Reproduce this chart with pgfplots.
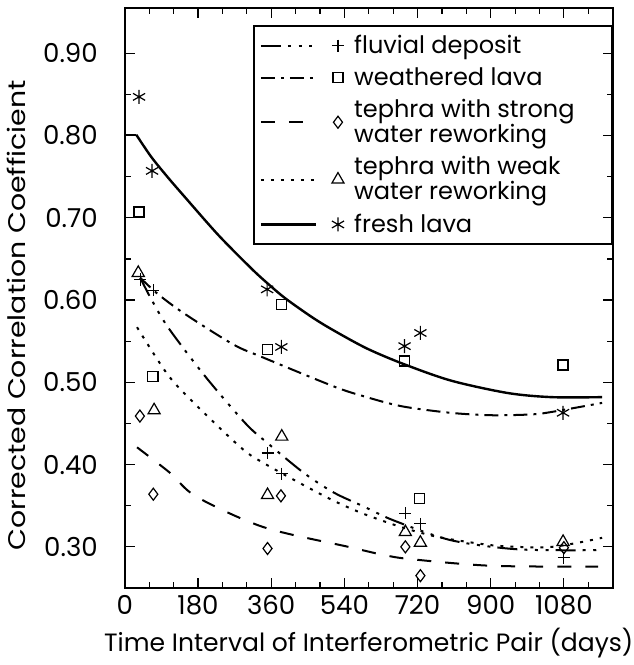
\documentclass[border=0pt]{standalone}
\usepackage{fontspec}
\setmainfont{Poppins}
\newfontfamily\ylabfont{Poppins}[FakeStretch=1.18]
\usepackage{pgfplots}
\pgfplotsset{compat=1.18}

\pgfplotsset{
  legimg/.style={legend image code/.code={
    \draw[##1,mark=none] (0pt,0pt) -- (27.5pt,0pt);
    \draw[##1,solid] plot[only marks] coordinates {(38.5pt,0pt)};
    \path (44.5pt,0pt);
  }},
  fluv/.style={black, line width=1pt, dash pattern=on 10pt off 3.5pt on 1.5pt off 3.8pt on 1.5pt off 3.8pt on 1.5pt off 3.5pt},
  weath/.style={black, line width=1pt, dash pattern=on 7pt off 3pt on 1.5pt off 3pt},
  strong/.style={black, line width=1pt, dash pattern=on 7pt off 7pt},
  weak/.style={black, line width=1pt, dash pattern=on 1.5pt off 3.5pt},
  fresh/.style={black, line width=1.2pt},
  mk/.style={only marks, black, mark options={solid, line width=0.6pt}},
}

\begin{document}
\begin{tikzpicture}
\begin{axis}[
  name=ax,
  scale only axis, width=243.5pt, height=289.5pt,
  xmin=0, xmax=1200, ymin=0.25, ymax=0.955,
  xtick={0,180,360,540,720,900,1080},
  minor xtick={60,120,240,300,420,480,600,660,780,840,960,1020,1140},
  ytick={0.3,0.4,0.5,0.6,0.7,0.8,0.9},
  minor ytick={0.35,0.45,0.55,0.65,0.75,0.85},
  tick align=inside,
  major tick length=5pt, minor tick length=3pt,
  every tick/.style={black, line width=0.6pt},
  axis line style={line width=1pt},
  /pgf/number format/assume math mode=true,
  xticklabel style={/pgf/number format/.cd, 1000 sep={}},
  yticklabel style={xshift=-10pt, /pgf/number format/.cd, fixed, fixed zerofill, precision=2},
  ticklabel style={font=\fontsize{13}{15}\selectfont},
  xlabel style={font=\fontsize{12.5}{14}\selectfont, inner xsep=0pt},
  ylabel style={font=\fontsize{12}{14}\selectfont\ylabfont, at={(ticklabel cs:0.47)}},
  ylabel shift=2pt,
  xlabel={Time Interval of Interferometric Pair (days)},
  ylabel={Corrected Correlation Coefficient},
  legend style={at={(rel axis cs:1,0.971)}, anchor=north east, draw=black, line width=1pt,
    fill=none, inner sep=3pt,
    font=\fontsize{12}{12.5}\selectfont, cells={anchor=west, align=left},
    nodes={inner ysep=1.5pt, inner xsep=1.5pt}, row sep=2.5pt},
  legimg,
]
% legend
\addlegendimage{fluv, mark=+, mark size=3pt, mark options={solid,line width=0.6pt}}
\addlegendentry{fluvial deposit}
\addlegendimage{weath, mark=square, mark size=2.5pt, mark options={solid,line width=0.6pt}}
\addlegendentry{weathered lava}
\addlegendimage{strong, mark=diamond, mark size=3pt, mark options={solid,line width=0.6pt}}
\addlegendentry{tephra with strong\rule{14pt}{0pt}\\water reworking}
\addlegendimage{weak, mark=triangle, mark size=3.5pt, mark options={solid,line width=0.6pt}}
\addlegendentry{tephra with weak\\water reworking}
\addlegendimage{fresh, mark=asterisk, mark size=3.5pt, mark options={solid,line width=0.6pt}}
\addlegendentry{fresh lava}

% fitted curves
\addplot[fresh, forget plot] coordinates {(0,0.801) (28,0.801)};
\addplot[fresh, smooth, forget plot] coordinates {
(28,0.801) (65,0.774) (106,0.749) (148,0.725) (230,0.679) (312,0.638) (354,0.619)
(395,0.602) (461,0.579) (514,0.563) (596,0.541) (687,0.522) (803,0.502) (942,0.487)
(1050,0.482) (1174,0.482)};
\addplot[weath, smooth, forget plot] coordinates {
(38,0.627) (82,0.607) (148,0.583) (267,0.546) (341,0.530) (514,0.495) (588,0.483)
(680,0.471) (800,0.463) (902,0.460) (1000,0.461) (1050,0.464) (1174,0.475)};
\addplot[fluv, smooth, forget plot] coordinates {
(38,0.627) (64,0.602) (106,0.567) (198,0.507) (297,0.450) (349,0.427) (440,0.390)
(514,0.366) (588,0.349) (662,0.332) (803,0.308) (967,0.297) (1164,0.296)};
\addplot[weak, smooth, forget plot] coordinates {
(30,0.567) (106,0.509) (176,0.472) (287,0.420) (341,0.402) (440,0.375) (514,0.356)
(588,0.340) (680,0.324) (761,0.313) (843,0.306) (926,0.301) (1050,0.300) (1174,0.311)};
\addplot[strong, smooth, forget plot] coordinates {
(30,0.421) (111,0.390) (176,0.361) (341,0.324) (550,0.300) (638,0.290) (705,0.285)
(902,0.277) (1164,0.276)};

% data points
\addplot[mk, mark=asterisk, mark size=3.5pt, forget plot] coordinates {
(35,0.847) (67,0.757) (350,0.613) (385,0.543) (688,0.544) (727,0.560) (1078,0.463)};
\addplot[mk, mark=square, mark size=2.5pt, forget plot] coordinates {
(35,0.707) (69,0.507) (350,0.540) (385,0.595) (688,0.526) (725,0.359) (1078,0.521)};
\addplot[mk, mark=+, mark size=3pt, forget plot] coordinates {
(38,0.625) (70,0.612) (351,0.414) (386,0.389) (690,0.341) (727,0.328) (1080,0.287)};
\addplot[mk, mark=diamond, mark size=3pt, forget plot] coordinates {
(37,0.459) (70,0.364) (351,0.298) (384,0.362) (690,0.300) (727,0.265) (1080,0.299)};
\addplot[mk, mark=triangle, mark size=3.5pt, forget plot] coordinates {
(33,0.633) (72,0.466) (351,0.363) (386,0.434) (690,0.318) (727,0.305) (1078,0.306)};
\end{axis}
\path (ax.north west) ++(0,4pt);
\end{tikzpicture}
\end{document}
